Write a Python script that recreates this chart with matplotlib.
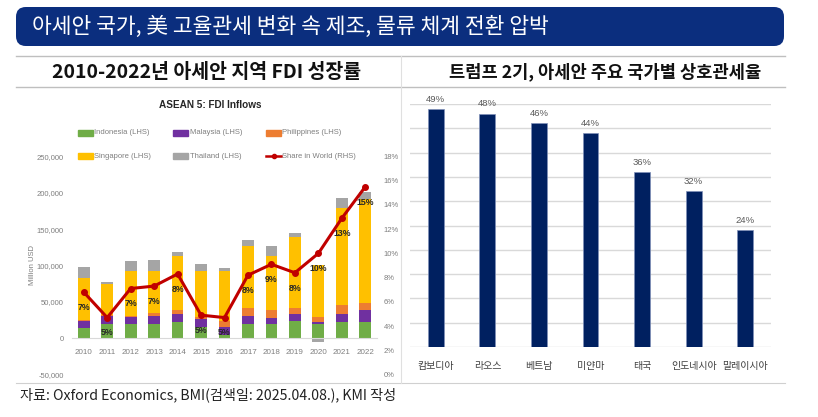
import numpy as np
import matplotlib.pyplot as plt
from matplotlib.patches import FancyBboxPatch, Rectangle
from matplotlib.lines import Line2D

plt.rcParams['font.family'] = ['Noto Sans CJK KR', 'DejaVu Sans']
NARROW = ['Liberation Sans Narrow', 'Liberation Sans', 'DejaVu Sans']

# ---- data: ASEAN 5 FDI inflows (million USD) ----
years = [str(y) for y in range(2010, 2023)]
indonesia = [14000, 19000, 20000, 19000, 22500, 16000, 4000, 20000, 20000, 24000, 19000, 21600, 22000]
malaysia = [9000, 12000, 8500, 12000, 10500, 10000, 11600, 10000, 8000, 8600, 3500, 11400, 16600]
philippines = [1500, 1000, 2500, 3000, 5600, 3000, 8400, 11000, 10600, 8400, 6500, 12500, 10000]
singapore = [58000, 43000, 62000, 58000, 74400, 64000, 68000, 86000, 74400, 98500, 71500, 133000, 142500]
thailand = [15000, 2000, 12600, 16000, 5000, 9000, 4000, 8000, 14000, 5500, -5000, 14400, 10500]
share = [6.8, 4.7, 7.1, 7.3, 8.3, 4.9, 4.7, 8.2, 9.1, 8.4, 10.0, 12.9, 15.5]
share_labels = ['7%', '5%', '7%', '7%', '8%', '5%', '5%', '8%', '9%', '8%', '10%', '13%', '15%']

# ---- data: reciprocal tariffs ----
countries = ['캄보디아', '라오스', '베트남', '미얀마', '태국', '인도네시아', '말레이시아']
tariffs = [49, 48, 46, 44, 36, 32, 24]

W, H = 818, 417
fig = plt.figure(figsize=(W / 100, H / 100), dpi=100, facecolor='white')


def fx(x):
    return x / W


def fy(y):
    return (H - y) / H


# header box
box = FancyBboxPatch((fx(16), fy(46)), fx(784) - fx(16), fy(7) - fy(46),
                     boxstyle='round,pad=0,rounding_size=0.012',
                     transform=fig.transFigure, facecolor='#0B2E7E', edgecolor='none',
                     mutation_aspect=W / H)
fig.add_artist(box)
fig.text(fx(32), fy(27), '아세안 국가, 美 고율관세 변화 속 제조, 물류 체계 전환 압박',
         color='white', fontsize=15.5, va='center', ha='left')

for y in (56, 87):
    fig.add_artist(Line2D([fx(16), fx(785)], [fy(y), fy(y)], color='#BFBFBF', lw=1,
                          transform=fig.transFigure))
fig.add_artist(Line2D([fx(16), fx(785)], [fy(383), fy(383)], color='#D0D0D0', lw=0.8,
                      transform=fig.transFigure))
fig.add_artist(Line2D([fx(401), fx(401)], [fy(56), fy(383)], color='#E0E0E0', lw=0.8,
                      transform=fig.transFigure))

fig.text(fx(207), fy(72), '2010-2022년 아세안 지역 FDI 성장률', fontsize=14,
         fontweight='bold', ha='center', va='center', color='#111111')
fig.text(fx(605), fy(72), '트럼프 2기, 아세안 주요 국가별 상호관세율', fontsize=12.7,
         fontweight='bold', ha='center', va='center', color='#111111')

fig.text(fx(20), fy(395), '자료: Oxford Economics, BMI(검색일: 2025.04.08.), KMI 작성',
         fontsize=10.2, ha='left', va='center', color='#222222')

# ---- left chart ----
ax = fig.add_axes([fx(72), fy(374.5), fx(377) - fx(72), fy(156.5) - fy(374.5)])
x = np.arange(len(years))
colors = {'Indonesia': '#70AD47', 'Malaysia': '#7030A0', 'Philippines': '#ED7D31',
          'Singapore': '#FFC000', 'Thailand': '#A5A5A5'}
series = [('Indonesia', indonesia), ('Malaysia', malaysia), ('Philippines', philippines),
          ('Singapore', singapore), ('Thailand', thailand)]
pos_bottom = np.zeros(len(years))
neg_bottom = np.zeros(len(years))
for name, vals in series:
    vals = np.array(vals, dtype=float)
    bottom = np.where(vals >= 0, pos_bottom, neg_bottom)
    ax.bar(x, vals, bottom=bottom, width=0.5, color=colors[name], zorder=2)
    pos_bottom += np.where(vals >= 0, vals, 0)
    neg_bottom += np.where(vals < 0, vals, 0)

ax.set_xlim(-0.5, 12.5)
ax.set_ylim(-50000, 250000)
ax.set_yticks(np.arange(-50000, 250001, 50000))
ax.set_yticklabels([f'{v:,}' for v in range(-50000, 250001, 50000)])
ax.set_xticks(x)
ax.set_xticklabels(years)
for s in ('top', 'right', 'left'):
    ax.spines[s].set_visible(False)
ax.spines['bottom'].set_position(('data', 0))
ax.spines['bottom'].set_color('#D9D9D9')
ax.tick_params(axis='y', length=0, pad=6, labelsize=5.5, labelcolor='#7F7F7F')
ax.tick_params(axis='x', length=0, pad=8, labelsize=5.8, labelcolor='#7F7F7F')
for lab in ax.get_xticklabels() + ax.get_yticklabels():
    lab.set_family(NARROW)
ax.patch.set_alpha(0)

ax2 = ax.twinx()
ax2.set_ylim(0, 18)
ax2.set_yticks(np.arange(0, 19, 2))
ax2.set_yticklabels([f'{v}%' for v in range(0, 19, 2)])
ax2.tick_params(axis='y', length=0, pad=5, labelsize=5.5, labelcolor='#7F7F7F')
for lab in ax2.get_yticklabels():
    lab.set_family(NARROW)
for s in ax2.spines.values():
    s.set_visible(False)
ax2.plot(x, share, color='#C00000', lw=2.2, marker='o', ms=4, zorder=5)
for xi, v, t in zip(x, share, share_labels):
    ax2.annotate(t, (xi, v), xytext=(0, -11), textcoords='offset points',
                 ha='center', va='center', fontsize=6.3, fontweight='bold',
                 color='#262626', family=NARROW)

fig.text(fx(210), fy(105), 'ASEAN 5: FDI Inflows', fontsize=7.2, fontweight='bold',
         ha='center', va='center', color='#262626', family=NARROW)
fig.text(fx(32), fy(265), 'Million USD', rotation=90, fontsize=5.5, ha='center',
         va='center', color='#7F7F7F', family=NARROW)

# legend laid out like the Excel chart: two rows of three
legend_items = [('Indonesia (LHS)', colors['Indonesia'], 78, 133),
                ('Malaysia (LHS)', colors['Malaysia'], 173, 133),
                ('Philippines (LHS)', colors['Philippines'], 266, 133),
                ('Singapore (LHS)', colors['Singapore'], 78, 156),
                ('Thailand (LHS)', colors['Thailand'], 173, 156),
                ('Share in World (RHS)', None, 266, 156)]
for label, col, lx, ly in legend_items:
    if col is None:
        fig.add_artist(Line2D([fx(lx), fx(lx + 15)], [fy(ly), fy(ly)], color='#C00000',
                              lw=1.8, transform=fig.transFigure))
        fig.add_artist(Line2D([fx(lx + 7.5)], [fy(ly)], color='#C00000', marker='o', ms=3,
                              transform=fig.transFigure))
    else:
        fig.add_artist(Rectangle((fx(lx), fy(ly + 2.5)), fx(15), 5 / H, color=col,
                                 transform=fig.transFigure))
    fig.text(fx(lx + 16.5), fy(ly), label, fontsize=5.5, color='#7F7F7F', va='center',
             ha='left', family=NARROW)

# ---- right chart ----
axr = fig.add_axes([fx(410), fy(347), fx(771) - fx(410), fy(104) - fy(347)])
xr = np.arange(len(countries))
bars = axr.bar(xr, tariffs, width=0.31, color='#002060', edgecolor='#7F90B8', lw=0.5, zorder=3)
for b, v in zip(bars, tariffs):
    axr.annotate(f'{v}%', (b.get_x() + b.get_width() / 2, v), xytext=(0, 7),
                 textcoords='offset points', ha='center', va='center', fontsize=6.8,
                 color='#595959', family=NARROW, annotation_clip=False)
axr.set_xlim(-0.5, len(countries) - 0.5)
axr.set_ylim(0, 50)
axr.set_yticks(np.arange(0, 51, 5))
axr.yaxis.grid(True, color='#D9D9D9', lw=1, zorder=0)
axr.set_yticklabels([])
axr.set_xticks(xr)
axr.set_xticklabels(countries)
axr.tick_params(axis='x', length=0, pad=10, labelsize=7.2, labelcolor='#404040')
axr.tick_params(axis='y', length=0)
for s in axr.spines.values():
    s.set_visible(False)
axr.set_axisbelow(True)

fig.savefig('out.png', dpi=100, facecolor='white')
